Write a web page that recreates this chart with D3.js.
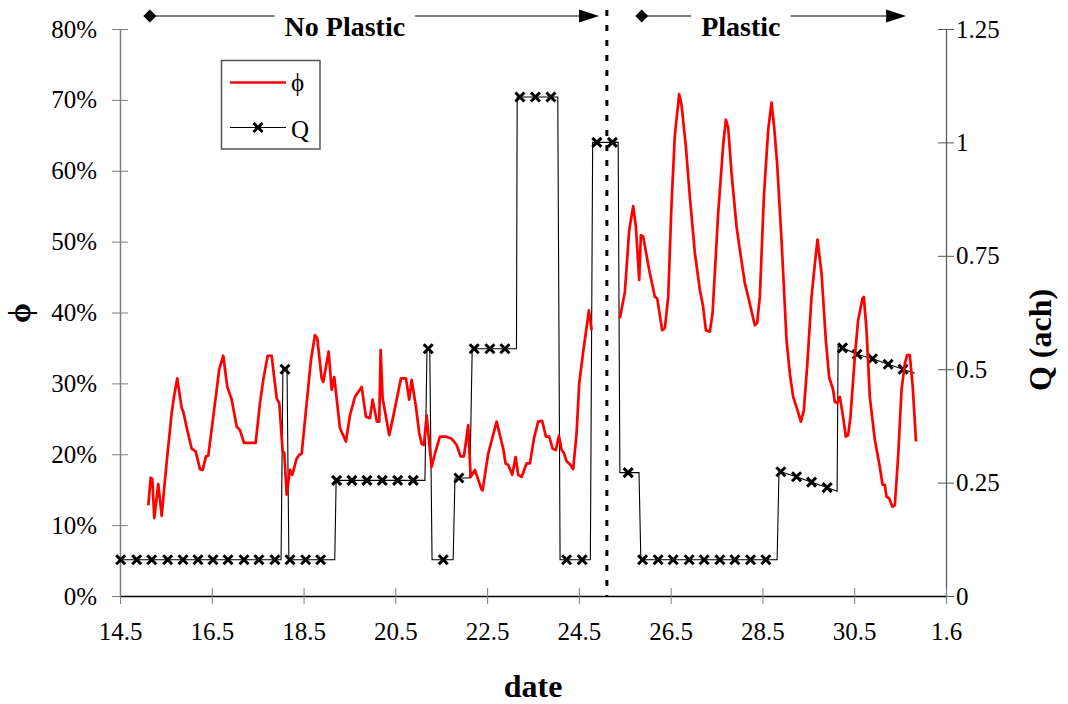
<!DOCTYPE html>
<html>
<head>
<meta charset="utf-8">
<script src="https://cdn.jsdelivr.net/npm/d3@7"></script>
<style>
  body { margin: 0; background: #fff; }
  svg { display: block; }
  text { font-family: "Liberation Serif", "Times New Roman", serif; fill: #000; }
</style>
</head>
<body>
<svg id="chart" width="1068" height="704"></svg>
<script>
// Size of the picture
const w = 1068;
const h = 704;
// plot area edges
const plotLeft = 120, plotRight = 946, plotTop = 29, plotBottom = 596;

// x axis: day number (14 = 14 May ... 32 = 1 June), labelled day.month
const xTickDays = [14, 16, 18, 20, 22, 24, 26, 28, 30, 32];
const xTickLabels = ["14.5", "16.5", "18.5", "20.5", "22.5", "24.5", "26.5", "28.5", "30.5", "1.6"];
const phiTicks = [0, 0.1, 0.2, 0.3, 0.4, 0.5, 0.6, 0.7, 0.8];
const qTicks = [0, 0.25, 0.5, 0.75, 1, 1.25];

// start of the "Plastic" period (dotted line)
const plasticStart = 24.61;

// phi series, without plastic  [day, phi]
const phiNoPlastic = [
  [14.617, 0.128], [14.669, 0.167], [14.704, 0.165], [14.747, 0.110], [14.834, 0.158],
  [14.908, 0.113], [14.980, 0.164], [15.052, 0.211], [15.126, 0.258], [15.176, 0.281],
  [15.248, 0.307], [15.344, 0.265], [15.379, 0.260], [15.466, 0.234], [15.562, 0.208],
  [15.649, 0.204], [15.743, 0.179], [15.802, 0.178], [15.874, 0.197], [15.924, 0.198],
  [16.033, 0.253], [16.163, 0.320], [16.251, 0.339], [16.338, 0.295], [16.434, 0.277],
  [16.542, 0.239], [16.614, 0.234], [16.702, 0.216], [16.956, 0.216], [17.050, 0.272],
  [17.122, 0.305], [17.218, 0.339], [17.305, 0.339], [17.414, 0.279], [17.471, 0.272],
  [17.545, 0.204], [17.580, 0.202], [17.632, 0.143], [17.704, 0.178], [17.754, 0.171],
  [17.850, 0.194], [17.906, 0.199], [17.959, 0.201], [18.068, 0.272], [18.161, 0.333],
  [18.248, 0.368], [18.298, 0.364], [18.394, 0.307], [18.429, 0.302], [18.547, 0.345],
  [18.612, 0.291], [18.669, 0.309], [18.793, 0.237], [18.924, 0.218], [19.011, 0.255],
  [19.120, 0.281], [19.266, 0.295], [19.359, 0.253], [19.447, 0.251], [19.505, 0.277],
  [19.599, 0.246], [19.649, 0.246], [19.680, 0.347], [19.723, 0.279], [19.867, 0.227],
  [19.969, 0.258], [20.063, 0.288], [20.122, 0.307], [20.231, 0.307], [20.303, 0.277],
  [20.355, 0.305], [20.449, 0.267], [20.521, 0.230], [20.573, 0.215], [20.623, 0.213],
  [20.682, 0.255], [20.739, 0.215], [20.791, 0.182], [20.863, 0.201], [20.972, 0.225],
  [21.102, 0.225], [21.227, 0.222], [21.336, 0.213], [21.423, 0.197], [21.495, 0.197],
  [21.588, 0.241], [21.641, 0.168], [21.734, 0.178], [21.880, 0.150], [21.902, 0.149],
  [22.024, 0.201], [22.207, 0.246], [22.351, 0.208], [22.403, 0.187], [22.460, 0.185],
  [22.547, 0.171], [22.621, 0.196], [22.678, 0.171], [22.752, 0.168], [22.861, 0.187],
  [22.933, 0.187], [23.020, 0.222], [23.113, 0.246], [23.200, 0.247], [23.281, 0.225],
  [23.353, 0.225], [23.427, 0.208], [23.499, 0.206], [23.564, 0.226], [23.623, 0.206],
  [23.673, 0.202], [23.732, 0.190], [23.804, 0.186], [23.876, 0.179], [23.950, 0.230],
  [24.007, 0.300], [24.109, 0.352], [24.190, 0.389], [24.218, 0.403], [24.277, 0.375]
];

// phi series, with plastic  [day, phi]
const phiPlastic = [
  [24.893, 0.392], [25.002, 0.429], [25.096, 0.516], [25.183, 0.550], [25.242, 0.521],
  [25.314, 0.446], [25.351, 0.509], [25.401, 0.507], [25.532, 0.460], [25.656, 0.422],
  [25.706, 0.420], [25.815, 0.375], [25.874, 0.378], [25.946, 0.422], [26.019, 0.554],
  [26.091, 0.650], [26.185, 0.708], [26.237, 0.693], [26.331, 0.634], [26.418, 0.563],
  [26.527, 0.484], [26.636, 0.432], [26.708, 0.408], [26.767, 0.375], [26.854, 0.373],
  [26.913, 0.399], [27.035, 0.540], [27.144, 0.636], [27.203, 0.672], [27.253, 0.661],
  [27.327, 0.596], [27.436, 0.521], [27.508, 0.488], [27.617, 0.441], [27.689, 0.422],
  [27.834, 0.382], [27.884, 0.385], [27.943, 0.422], [28.031, 0.563], [28.124, 0.657],
  [28.198, 0.696], [28.255, 0.662], [28.320, 0.610], [28.416, 0.502], [28.525, 0.361],
  [28.597, 0.314], [28.669, 0.281], [28.765, 0.262], [28.837, 0.246], [28.902, 0.262],
  [28.974, 0.324], [29.070, 0.422], [29.142, 0.469], [29.200, 0.503], [29.288, 0.455],
  [29.381, 0.361], [29.453, 0.309], [29.540, 0.291], [29.577, 0.274], [29.627, 0.272],
  [29.686, 0.281], [29.745, 0.258], [29.817, 0.225], [29.867, 0.227], [29.919, 0.253],
  [30.013, 0.338], [30.085, 0.389], [30.181, 0.420], [30.209, 0.422], [30.268, 0.375],
  [30.340, 0.281], [30.449, 0.220], [30.558, 0.182], [30.617, 0.157], [30.667, 0.157],
  [30.704, 0.140], [30.760, 0.138], [30.834, 0.126], [30.885, 0.128], [30.957, 0.197],
  [31.031, 0.291], [31.103, 0.328], [31.153, 0.340], [31.211, 0.340], [31.275, 0.295],
  [31.346, 0.218]
];

// Q (ach) trace  [day, Q]
const qLine = [
  [14.015, 0.08], [17.51, 0.08], [17.55, 0.50], [17.64, 0.50], [17.68, 0.08],
  [18.68, 0.08], [18.71, 0.255], [20.645, 0.255], [20.69, 0.545], [20.75, 0.545],
  [20.80, 0.08], [21.26, 0.08], [21.30, 0.26], [21.625, 0.26], [21.675, 0.545],
  [22.64, 0.545], [22.655, 1.10], [23.54, 1.10], [23.59, 0.08], [24.25, 0.08],
  [24.30, 1.00], [24.856, 1.00], [24.893, 0.272], [25.31, 0.272], [25.35, 0.08],
  [28.32, 0.08], [28.36, 0.274], [28.40, 0.274], [28.74, 0.263], [29.07, 0.251],
  [29.41, 0.239], [29.627, 0.231], [29.649, 0.55], [29.745, 0.547], [30.06, 0.533],
  [30.40, 0.523], [30.74, 0.511], [31.065, 0.50], [31.32, 0.491]
];

// Q samples shown with markers  [day, Q]
const qMarks = [
  [14.015, 0.08], [14.364, 0.08], [14.691, 0.08], [15.039, 0.08], [15.373, 0.08],
  [15.699, 0.08], [16.026, 0.08], [16.353, 0.08], [16.702, 0.08], [17.028, 0.08],
  [17.377, 0.08], [17.595, 0.50], [17.704, 0.08], [18.046, 0.08], [18.373, 0.08],
  [18.721, 0.255], [19.054, 0.255], [19.381, 0.255], [19.715, 0.255], [20.050, 0.255],
  [20.390, 0.255], [20.717, 0.545], [21.044, 0.08], [21.386, 0.26], [21.719, 0.545],
  [22.061, 0.545], [22.388, 0.545], [22.715, 1.10], [23.052, 1.10], [23.390, 1.10],
  [23.732, 0.08], [24.072, 0.08], [24.392, 1.00], [24.730, 1.00], [25.074, 0.272],
  [25.388, 0.08], [25.728, 0.08], [26.054, 0.08], [26.403, 0.08], [26.730, 0.08],
  [27.072, 0.08], [27.399, 0.08], [27.741, 0.08], [28.074, 0.08], [28.401, 0.274],
  [28.743, 0.263], [29.070, 0.251], [29.410, 0.239], [29.745, 0.547], [30.063, 0.533],
  [30.399, 0.523], [30.739, 0.511], [31.065, 0.50]
];

// period annotations: label, from day, to day, label day
const periodLabels = ["No Plastic", "Plastic"];
const periodFrom = [14.65, 25.37];
const periodTo = [24.44, 31.13];
const periodMid = [18.9, 27.53];

const svg = d3.select("#chart");

const x = d3.scaleLinear().domain([14, 32]).range([plotLeft, plotRight]);
const yPhi = d3.scaleLinear().domain([0, 0.8]).range([plotBottom, plotTop]);
const yQ = d3.scaleLinear().domain([0, 1.25]).range([plotBottom, plotTop]);

// left axis (phi)
const gLeft = svg.append("g")
  .attr("transform", `translate(${plotLeft},0)`)
  .call(d3.axisLeft(yPhi).tickValues(phiTicks).tickFormat(d3.format(".0%"))
    .tickSize(8).tickSizeOuter(0).tickPadding(15));
gLeft.selectAll(".tick line").attr("x1", 8).attr("stroke", "#7f7f7f");
gLeft.select(".domain").attr("stroke", "#7f7f7f").attr("stroke-width", 1.5);

// right axis (Q)
const gRight = svg.append("g")
  .attr("transform", `translate(${plotRight},0)`)
  .call(d3.axisRight(yQ).tickValues(qTicks).tickFormat(d => String(d))
    .tickSize(8).tickSizeOuter(0).tickPadding(2));
gRight.selectAll(".tick line").attr("x1", -8).attr("stroke", "#555");
gRight.select(".domain").attr("stroke", "#555").attr("stroke-width", 1.2);

// bottom axis (date)
const gBottom = svg.append("g")
  .attr("transform", `translate(0,${plotBottom})`)
  .call(d3.axisBottom(x).tickValues(xTickDays).tickFormat((d, i) => xTickLabels[i])
    .tickSize(8).tickSizeOuter(0).tickPadding(18));
gBottom.selectAll(".tick line").attr("y1", -8).attr("stroke", "#7f7f7f");
gBottom.select(".domain").attr("stroke", "#000").attr("stroke-width", 1.5);

svg.selectAll(".tick text").attr("font-size", 25)
  .attr("font-family", "Liberation Serif, Times New Roman, serif").attr("fill", "#000");

// dotted separator
svg.append("line")
  .attr("x1", x(plasticStart)).attr("x2", x(plasticStart))
  .attr("y1", 10).attr("y2", plotBottom)
  .attr("stroke", "#000").attr("stroke-width", 3)
  .attr("stroke-dasharray", "6,9");

// Q trace
const qPath = d3.line().x(d => x(d[0])).y(d => yQ(d[1]));
svg.append("path")
  .attr("d", qPath(qLine))
  .attr("fill", "none").attr("stroke", "#000").attr("stroke-width", 1.1);

const cross = "M-4.5,-4.5L4.5,4.5M-4.5,4.5L4.5,-4.5";
svg.selectAll(".qmark")
  .data(qMarks)
  .enter()
  .append("path")
  .attr("class", "qmark")
  .attr("transform", d => `translate(${x(d[0])},${yQ(d[1])})`)
  .attr("d", cross)
  .attr("fill", "none").attr("stroke", "#000").attr("stroke-width", 3);

// phi lines
const phiPath = d3.line().x(d => x(d[0])).y(d => yPhi(d[1]));
[phiNoPlastic, phiPlastic].forEach(series => {
  svg.append("path")
    .attr("d", phiPath(series))
    .attr("fill", "none").attr("stroke", "#ff0000")
    .attr("stroke-width", 2.7).attr("stroke-linejoin", "round");
});

// period arrows at the top
const arrowY = 16;
periodLabels.forEach((label, i) => {
  const g = svg.append("g");
  const t = g.append("text")
    .attr("x", x(periodMid[i])).attr("y", 36)
    .attr("text-anchor", "middle")
    .attr("font-size", 28).attr("font-weight", "bold")
    .text(label);
  const bb = t.node().getBBox();
  g.append("line")
    .attr("x1", x(periodFrom[i])).attr("x2", bb.x - 10)
    .attr("y1", arrowY).attr("y2", arrowY)
    .attr("stroke", "#000").attr("stroke-width", 1.2);
  g.append("line")
    .attr("x1", bb.x + bb.width + 10).attr("x2", x(periodTo[i]) - 18)
    .attr("y1", arrowY).attr("y2", arrowY)
    .attr("stroke", "#000").attr("stroke-width", 1.2);
  // diamond start
  g.append("path")
    .attr("transform", `translate(${x(periodFrom[i])},${arrowY})`)
    .attr("d", "M-6.5,0L0,-6.5L6.5,0L0,6.5Z").attr("fill", "#000");
  // arrow head end
  g.append("path")
    .attr("transform", `translate(${x(periodTo[i])},${arrowY})`)
    .attr("d", "M0,0L-20,-6.5L-20,6.5Z").attr("fill", "#000");
});

// legend
const lg = svg.append("g");
lg.append("rect")
  .attr("x", 221.5).attr("y", 60.5).attr("width", 98.5).attr("height", 88.5)
  .attr("fill", "#fff").attr("stroke", "#555").attr("stroke-width", 1.5);
lg.append("line")
  .attr("x1", 230).attr("x2", 286).attr("y1", 82.5).attr("y2", 82.5)
  .attr("stroke", "#ff0000").attr("stroke-width", 2.7);
lg.append("text").attr("x", 291).attr("y", 91).attr("font-size", 25).text("ϕ");
lg.append("line")
  .attr("x1", 230).attr("x2", 286).attr("y1", 127.5).attr("y2", 127.5)
  .attr("stroke", "#000").attr("stroke-width", 1.1);
lg.append("path")
  .attr("transform", "translate(258,127.5)")
  .attr("d", cross).attr("fill", "none").attr("stroke", "#000").attr("stroke-width", 3);
lg.append("text").attr("x", 291).attr("y", 138).attr("font-size", 25).text("Q");

// axis titles
svg.append("text")
  .attr("transform", "translate(30,313) rotate(-90)")
  .attr("text-anchor", "middle")
  .attr("font-size", 32).attr("font-weight", "bold")
  .text("ϕ");
svg.append("text")
  .attr("transform", "translate(1051,340) rotate(-90)")
  .attr("text-anchor", "middle")
  .attr("font-size", 32).attr("font-weight", "bold")
  .text("Q (ach)");
svg.append("text")
  .attr("x", 533).attr("y", 697)
  .attr("text-anchor", "middle")
  .attr("font-size", 32).attr("font-weight", "bold")
  .text("date");
</script>
</body>
</html>
